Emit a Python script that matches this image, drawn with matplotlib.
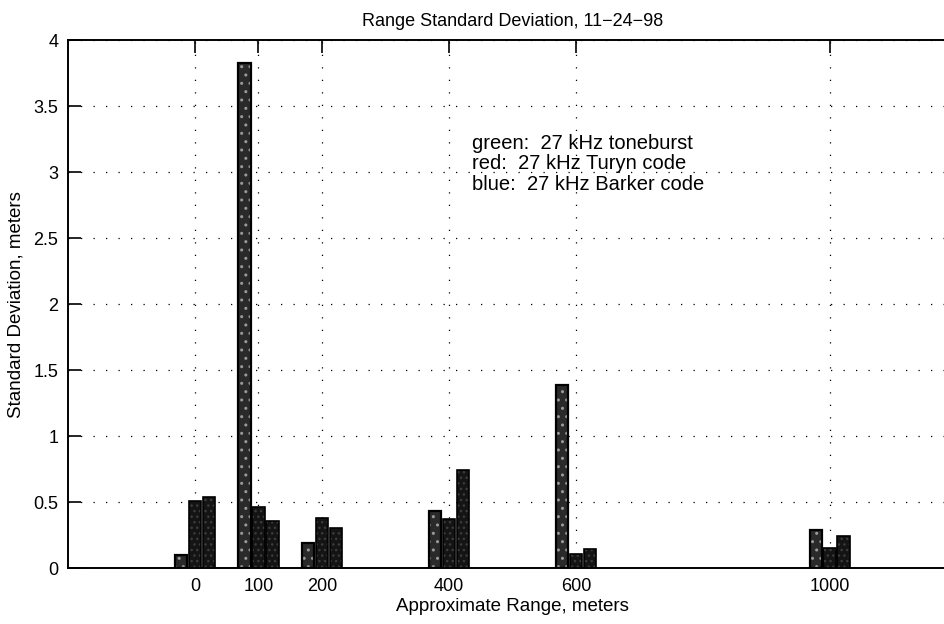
import numpy as np
import matplotlib.pyplot as plt

plt.rcParams['font.family'] = ['Liberation Sans', 'DejaVu Sans']

# approximate range of each test (m) and std dev for each waveform
ranges = [0, 100, 200, 400, 600, 1000]
toneburst = [0.10, 3.83, 0.19, 0.43, 1.39, 0.29]   # green
turyn = [0.51, 0.46, 0.38, 0.37, 0.11, 0.15]       # red
barker = [0.54, 0.36, 0.30, 0.74, 0.145, 0.245]    # blue
xticks = [0, 100, 200, 400, 600, 1000]
yticks = [0, 0.5, 1, 1.5, 2, 2.5, 3, 3.5, 4]

fig = plt.figure(figsize=(9.45, 6.24), dpi=100)
ax = fig.add_axes([0.072, 0.0897, 0.9405, 0.846])

x = np.array(ranges, dtype=float)
step = 22
w = 20

# toneburst bars: speckled face with a heavy outline
ax.bar(x - step, toneburst, w, color='#2a2a2a', edgecolor='#9a9a9a',
       hatch='..', linewidth=0, zorder=3)
ax.bar(x - step, toneburst, w, fill=False, edgecolor='k', linewidth=1.6, zorder=4)
# coded waveforms: dark bars
ax.bar(x, turyn, w, color='#141414', edgecolor='#3c3c3c', hatch='...',
       linewidth=0, zorder=3)
ax.bar(x, turyn, w, fill=False, edgecolor='k', linewidth=1.2, zorder=4)
ax.bar(x + step, barker, w, color='#141414', edgecolor='#3c3c3c', hatch='...',
       linewidth=0, zorder=3)
ax.bar(x + step, barker, w, fill=False, edgecolor='k', linewidth=1.2, zorder=4)

ax.set_xlim(-200, 1200)
ax.set_ylim(0, 4)
ax.set_xticks(xticks)
ax.set_xticklabels([str(t) for t in xticks])
ax.set_yticks(yticks)
ax.set_yticklabels(['0', '0.5', '1', '1.5', '2', '2.5', '3', '3.5', '4'])
ax.tick_params(direction='in', length=9, width=1.2, top=True, right=True,
               labelsize=13, pad=7)
ax.grid(True, color='k', linestyle=(0, (1, 9)), linewidth=0.9, zorder=1)
for s in ax.spines.values():
    s.set_linewidth(1.4)

ax.set_title('Range Standard Deviation, 11\u221224\u221298', fontsize=13, pad=10)
ax.set_xlabel('Approximate Range, meters', fontsize=13.5, labelpad=2)
ax.set_ylabel('Standard Deviation, meters', fontsize=13.5, labelpad=6)

ax.text(436, 3.29, 'green:  27 kHz toneburst\nred:  27 kHz Turyn code\nblue:  27 kHz Barker code',
        fontsize=14.5, va='top', ha='left', linespacing=1.1, zorder=5)

fig.savefig('out.png', dpi=100)
